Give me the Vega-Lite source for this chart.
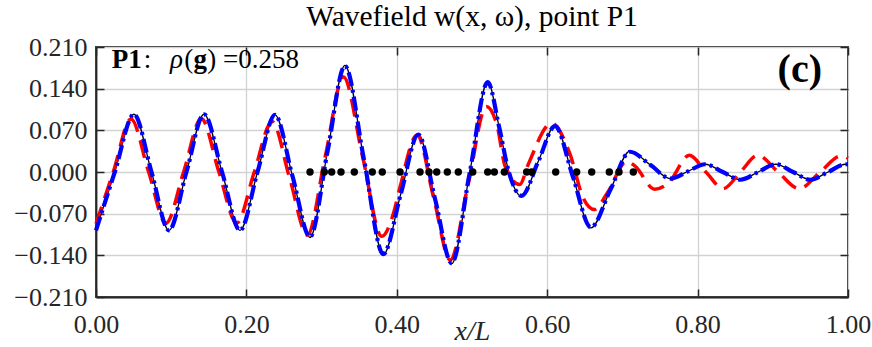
{
  "$schema": "https://vega.github.io/schema/vega-lite/v6.json",
  "width": 752,
  "height": 250,
  "autosize": {"type": "none"},
  "padding": {"left": 96, "top": 47, "right": 24, "bottom": 50},
  "background": "white",
  "title": {
    "text": "Wavefield w(x, ω), point P1",
    "font": "Liberation Serif",
    "fontSize": 29.5,
    "fontWeight": "normal",
    "color": "black",
    "anchor": "middle",
    "baseline": "alphabetic",
    "offset": 9,
    "dy": 30,
    "frame": "group"
  },
  "config": {
    "font": "Liberation Serif",
    "title": {"font": "Liberation Serif", "fontWeight": "normal"},
    "view": {"stroke": "#262626", "strokeWidth": 1.8},
    "axis": {
      "labelFont": "Liberation Serif",
      "labelFontSize": 26,
      "labelColor": "#262626",
      "tickColor": "#262626",
      "tickWidth": 1.5,
      "tickSize": -8,
      "domainColor": "#262626",
      "domainWidth": 1.8,
      "gridColor": "#d2d2d2",
      "gridWidth": 1.3,
      "titleFont": "Liberation Serif",
      "titleColor": "#262626"
    }
  },
  "datasets": {
    "black": [
      {"x": 0, "w": -0.097}, {"x": 0.025, "w": 0}, {"x": 0.0505, "w": 0.097}, {"x": 0.0738, "w": 0},
      {"x": 0.097, "w": -0.098}, {"x": 0.1203, "w": 0}, {"x": 0.1436, "w": 0.097}, {"x": 0.1676, "w": 0},
      {"x": 0.1915, "w": -0.098}, {"x": 0.2148, "w": 0}, {"x": 0.238, "w": 0.096}, {"x": 0.2613, "w": -0.007},
      {"x": 0.2846, "w": -0.11}, {"x": 0.3078, "w": 0.034}, {"x": 0.331, "w": 0.179}, {"x": 0.3565, "w": 0.02},
      {"x": 0.382, "w": -0.139}, {"x": 0.4053, "w": -0.037}, {"x": 0.4286, "w": 0.064}, {"x": 0.4508, "w": -0.045},
      {"x": 0.473, "w": -0.154}, {"x": 0.497, "w": -0.001}, {"x": 0.521, "w": 0.152}, {"x": 0.536, "w": 0.076},
      {"x": 0.549, "w": 0.0}, {"x": 0.566, "w": -0.041}, {"x": 0.5882, "w": 0.018}, {"x": 0.6104, "w": 0.078},
      {"x": 0.6342, "w": -0.008}, {"x": 0.658, "w": -0.094}, {"x": 0.684, "w": -0.03}, {"x": 0.71, "w": 0.035},
      {"x": 0.737, "w": 0.012}, {"x": 0.764, "w": -0.011}, {"x": 0.787, "w": 0.001}, {"x": 0.81, "w": 0.013},
      {"x": 0.8335, "w": 0}, {"x": 0.857, "w": -0.013}, {"x": 0.8805, "w": 0}, {"x": 0.904, "w": 0.013},
      {"x": 0.927, "w": 0}, {"x": 0.95, "w": -0.013}, {"x": 0.9735, "w": 0}, {"x": 0.997, "w": 0.013},
      {"x": 1.0, "w": 0.013}
    ],
    "blue": [
      {"x": 0, "w": -0.098}, {"x": 0.025, "w": 0}, {"x": 0.0505, "w": 0.097}, {"x": 0.0738, "w": 0},
      {"x": 0.097, "w": -0.098}, {"x": 0.1203, "w": 0}, {"x": 0.1436, "w": 0.097}, {"x": 0.1676, "w": 0},
      {"x": 0.1915, "w": -0.098}, {"x": 0.2148, "w": 0}, {"x": 0.238, "w": 0.096}, {"x": 0.2613, "w": -0.007},
      {"x": 0.2846, "w": -0.109}, {"x": 0.3078, "w": 0.034}, {"x": 0.331, "w": 0.178}, {"x": 0.3565, "w": 0.02},
      {"x": 0.382, "w": -0.138}, {"x": 0.4053, "w": -0.037}, {"x": 0.4286, "w": 0.063}, {"x": 0.4508, "w": -0.045},
      {"x": 0.473, "w": -0.153}, {"x": 0.497, "w": -0.001}, {"x": 0.521, "w": 0.151}, {"x": 0.536, "w": 0.076},
      {"x": 0.549, "w": 0.0}, {"x": 0.566, "w": -0.04}, {"x": 0.5882, "w": 0.018}, {"x": 0.6104, "w": 0.077},
      {"x": 0.6342, "w": -0.008}, {"x": 0.658, "w": -0.093}, {"x": 0.684, "w": -0.03}, {"x": 0.71, "w": 0.034},
      {"x": 0.737, "w": 0.012}, {"x": 0.764, "w": -0.011}, {"x": 0.787, "w": 0.001}, {"x": 0.81, "w": 0.013},
      {"x": 0.8335, "w": 0}, {"x": 0.857, "w": -0.013}, {"x": 0.8805, "w": 0}, {"x": 0.904, "w": 0.013},
      {"x": 0.927, "w": 0}, {"x": 0.95, "w": -0.013}, {"x": 0.9735, "w": 0}, {"x": 0.997, "w": 0.013},
      {"x": 1.0, "w": 0.013}
    ],
    "red": [
      {"x": 0, "w": -0.087}, {"x": 0.023, "w": 0}, {"x": 0.0465, "w": 0.089}, {"x": 0.07, "w": 0},
      {"x": 0.093, "w": -0.086}, {"x": 0.1165, "w": 0}, {"x": 0.14, "w": 0.09}, {"x": 0.1635, "w": 0},
      {"x": 0.187, "w": -0.086}, {"x": 0.2105, "w": 0}, {"x": 0.234, "w": 0.085}, {"x": 0.2575, "w": -0.01},
      {"x": 0.281, "w": -0.106}, {"x": 0.305, "w": 0.027}, {"x": 0.329, "w": 0.16}, {"x": 0.3545, "w": 0.026},
      {"x": 0.38, "w": -0.108}, {"x": 0.395, "w": -0.072}, {"x": 0.404, "w": -0.027}, {"x": 0.427, "w": 0.062},
      {"x": 0.449, "w": -0.043}, {"x": 0.471, "w": -0.148}, {"x": 0.495, "w": -0.02}, {"x": 0.519, "w": 0.11},
      {"x": 0.533, "w": 0.08}, {"x": 0.544, "w": 0.01}, {"x": 0.5635, "w": -0.021}, {"x": 0.5745, "w": 0.012},
      {"x": 0.606, "w": 0.082}, {"x": 0.6306, "w": 0.029}, {"x": 0.648, "w": -0.044}, {"x": 0.6628, "w": -0.063},
      {"x": 0.681, "w": -0.033}, {"x": 0.7056, "w": 0.018}, {"x": 0.7168, "w": 0.01}, {"x": 0.743, "w": -0.029},
      {"x": 0.761, "w": -0.019}, {"x": 0.789, "w": 0.028}, {"x": 0.811, "w": 0}, {"x": 0.834, "w": -0.028},
      {"x": 0.857, "w": 0}, {"x": 0.88, "w": 0.028}, {"x": 0.907, "w": 0}, {"x": 0.935, "w": -0.028},
      {"x": 0.963, "w": 0}, {"x": 0.991, "w": 0.027}, {"x": 1.0, "w": 0.023}
    ],
    "dots": [
      {"x": 0.2846, "w": 0}, {"x": 0.3036, "w": 0}, {"x": 0.3134, "w": 0}, {"x": 0.3258, "w": 0},
      {"x": 0.3435, "w": 0}, {"x": 0.3674, "w": 0}, {"x": 0.3807, "w": 0}, {"x": 0.4043, "w": 0},
      {"x": 0.4309, "w": 0}, {"x": 0.4428, "w": 0}, {"x": 0.4531, "w": 0}, {"x": 0.4672, "w": 0},
      {"x": 0.4818, "w": 0}, {"x": 0.501, "w": 0}, {"x": 0.5209, "w": 0}, {"x": 0.5297, "w": 0},
      {"x": 0.543, "w": 0}, {"x": 0.5727, "w": 0}, {"x": 0.5793, "w": 0}, {"x": 0.6113, "w": 0},
      {"x": 0.6392, "w": 0}, {"x": 0.6592, "w": 0}, {"x": 0.6826, "w": 0}, {"x": 0.6955, "w": 0},
      {"x": 0.7145, "w": 0}
    ],
    "one": [{}]
  },
  "layer": [
    {
      "data": {"name": "black"},
      "mark": {"type": "line", "color": "black", "strokeWidth": 1.3, "interpolate": "monotone"},
      "encoding": {
        "x": {
          "field": "x", "type": "quantitative",
          "scale": {"domain": [0, 1], "nice": false, "zero": false},
          "axis": {
            "orient": "bottom", "values": [0, 0.2, 0.4, 0.6, 0.8, 1], "format": ".2f",
            "grid": true, "labelPadding": 22, "labelFlush": false,
            "title": "x/L", "titleFontSize": 28, "titleFontStyle": "italic", "titleFontWeight": "normal",
            "titleBaseline": "alphabetic", "titleY": 42
          }
        },
        "y": {
          "field": "w", "type": "quantitative",
          "scale": {"domain": [-0.21, 0.21], "nice": false, "zero": false},
          "axis": {
            "orient": "left", "values": [-0.21, -0.14, -0.07, 0, 0.07, 0.14, 0.21], "format": ".3f",
            "grid": true, "labelPadding": 17, "labelFlush": false, "title": null
          }
        }
      }
    },
    {
      "data": {"name": "red"},
      "mark": {"type": "line", "color": "#ff0000", "strokeWidth": 3.5, "strokeDash": [18, 9], "interpolate": "monotone"},
      "encoding": {
        "x": {"field": "x", "type": "quantitative", "scale": {"domain": [0, 1], "nice": false, "zero": false}, "axis": null},
        "y": {"field": "w", "type": "quantitative", "scale": {"domain": [-0.21, 0.21], "nice": false, "zero": false}, "axis": null}
      }
    },
    {
      "data": {"name": "blue"},
      "mark": {"type": "line", "color": "#0000ff", "strokeWidth": 4.2, "strokeDash": [14, 4, 3, 4], "interpolate": "monotone"},
      "encoding": {
        "x": {"field": "x", "type": "quantitative", "scale": {"domain": [0, 1], "nice": false, "zero": false}, "axis": null},
        "y": {"field": "w", "type": "quantitative", "scale": {"domain": [-0.21, 0.21], "nice": false, "zero": false}, "axis": null}
      }
    },
    {
      "data": {"name": "dots"},
      "mark": {"type": "point", "filled": true, "color": "black", "opacity": 1, "size": 55},
      "encoding": {
        "x": {
          "field": "x", "type": "quantitative", "scale": {"domain": [0, 1], "nice": false, "zero": false},
          "axis": {"orient": "top", "values": [0, 0.2, 0.4, 0.6, 0.8, 1], "labels": false, "grid": false, "domain": false, "title": null}
        },
        "y": {
          "field": "w", "type": "quantitative", "scale": {"domain": [-0.21, 0.21], "nice": false, "zero": false},
          "axis": {"orient": "right", "values": [-0.21, -0.14, -0.07, 0, 0.07, 0.14, 0.21], "labels": false, "grid": false, "domain": false, "title": null}
        }
      }
    },
    {
      "data": {"name": "one"},
      "mark": {"type": "text", "text": "P1", "font": "Liberation Serif", "fontSize": 27, "fontWeight": "bold", "align": "left", "baseline": "alphabetic", "color": "black"},
      "encoding": {
        "x": {"datum": 0.0209, "type": "quantitative", "scale": {"domain": [0, 1], "nice": false, "zero": false}, "axis": null},
        "y": {"datum": 0.175, "type": "quantitative", "scale": {"domain": [-0.21, 0.21], "nice": false, "zero": false}, "axis": null}
      }
    },
    {
      "data": {"name": "one"},
      "mark": {"type": "text", "text": ":", "font": "Liberation Serif", "fontSize": 27, "align": "left", "baseline": "alphabetic", "color": "black"},
      "encoding": {
        "x": {"datum": 0.0635, "type": "quantitative", "scale": {"domain": [0, 1], "nice": false, "zero": false}, "axis": null},
        "y": {"datum": 0.175, "type": "quantitative", "scale": {"domain": [-0.21, 0.21], "nice": false, "zero": false}, "axis": null}
      }
    },
    {
      "data": {"name": "one"},
      "mark": {"type": "text", "text": "ρ", "font": "Liberation Serif", "fontSize": 27, "fontStyle": "italic", "align": "left", "baseline": "alphabetic", "color": "black"},
      "encoding": {
        "x": {"datum": 0.0984, "type": "quantitative", "scale": {"domain": [0, 1], "nice": false, "zero": false}, "axis": null},
        "y": {"datum": 0.175, "type": "quantitative", "scale": {"domain": [-0.21, 0.21], "nice": false, "zero": false}, "axis": null}
      }
    },
    {
      "data": {"name": "one"},
      "mark": {"type": "text", "text": "(", "font": "Liberation Serif", "fontSize": 27, "align": "left", "baseline": "alphabetic", "color": "black"},
      "encoding": {
        "x": {"datum": 0.1172, "type": "quantitative", "scale": {"domain": [0, 1], "nice": false, "zero": false}, "axis": null},
        "y": {"datum": 0.175, "type": "quantitative", "scale": {"domain": [-0.21, 0.21], "nice": false, "zero": false}, "axis": null}
      }
    },
    {
      "data": {"name": "one"},
      "mark": {"type": "text", "text": "g", "font": "Liberation Serif", "fontSize": 27, "fontWeight": "bold", "align": "left", "baseline": "alphabetic", "color": "black"},
      "encoding": {
        "x": {"datum": 0.1295, "type": "quantitative", "scale": {"domain": [0, 1], "nice": false, "zero": false}, "axis": null},
        "y": {"datum": 0.175, "type": "quantitative", "scale": {"domain": [-0.21, 0.21], "nice": false, "zero": false}, "axis": null}
      }
    },
    {
      "data": {"name": "one"},
      "mark": {"type": "text", "text": ") =0.258", "font": "Liberation Serif", "fontSize": 27, "align": "left", "baseline": "alphabetic", "color": "black"},
      "encoding": {
        "x": {"datum": 0.148, "type": "quantitative", "scale": {"domain": [0, 1], "nice": false, "zero": false}, "axis": null},
        "y": {"datum": 0.175, "type": "quantitative", "scale": {"domain": [-0.21, 0.21], "nice": false, "zero": false}, "axis": null}
      }
    },
    {
      "data": {"name": "one"},
      "mark": {"type": "text", "text": "(c)", "font": "Liberation Serif", "fontSize": 40, "fontWeight": "bold", "align": "right", "baseline": "alphabetic", "color": "black"},
      "encoding": {
        "x": {"datum": 0.9654, "type": "quantitative", "scale": {"domain": [0, 1], "nice": false, "zero": false}, "axis": null},
        "y": {"datum": 0.1515, "type": "quantitative", "scale": {"domain": [-0.21, 0.21], "nice": false, "zero": false}, "axis": null}
      }
    }
  ],
  "resolve": {"axis": {"x": "independent", "y": "independent"}}
}
